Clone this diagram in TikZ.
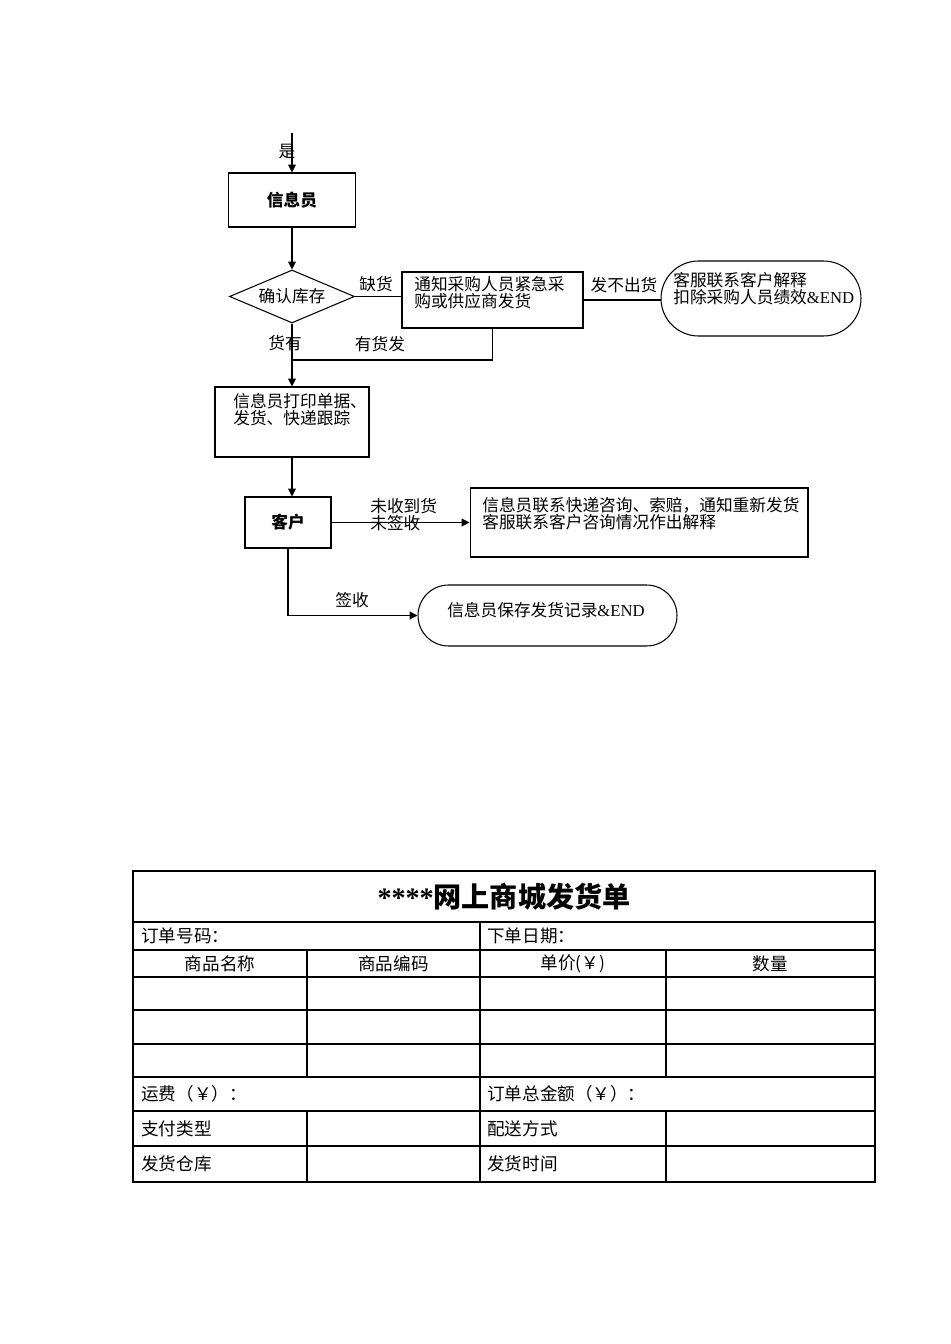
\documentclass[tikz,border=0pt]{standalone}
\usepackage{fontspec}
\setmainfont{Liberation Serif}
\newfontfamily\cjk{Noto Sans CJK SC}
\usetikzlibrary{shapes.geometric,shapes.misc,arrows.meta}

\begin{document}
\begin{tikzpicture}[x=0.02cm, y=-0.02cm,
squarednode/.style={rectangle, draw=black, line width=0.6pt, inner sep=0pt},
roundnode/.style={rounded rectangle, draw=black, line width=0.6pt, inner sep=0pt},
choicenode/.style={diamond, draw=black, line width=0.6pt, inner sep=0pt, aspect=2.4, font=\cjk\fontsize{9.5}{9.5}\selectfont},
boldtext/.style={font=\cjk\bfseries\fontsize{9.5}{9.5}\selectfont},
boxtext/.style={anchor=north west, align=left, inner sep=0pt, font=\cjk\fontsize{9.5}{9.5}\selectfont},
flowlabel/.style={inner sep=0pt, font=\cjk\fontsize{9.5}{9.5}\selectfont},
flowarrow/.style={-{Triangle[length=4.5pt,width=4.5pt]}, line width=0.6pt},
flowline/.style={line width=0.6pt},
cell/.style={inner sep=0pt, anchor=west, font=\cjk\fontsize{10}{12}\selectfont},
headcell/.style={inner sep=0pt, font=\cjk\fontsize{10}{12}\selectfont},
]
\useasboundingbox (0,0) rectangle (950,1344);

%Nodes
\node[squarednode, boldtext, minimum width=2.54cm, minimum height=1.08cm] (staff) at (292,200) {信息员};
\node[choicenode, minimum width=2.5cm, minimum height=1.06cm]           (stock) at (292,296.5) {确认库存};
\node[squarednode, minimum width=3.62cm, minimum height=1.12cm]         (notify) at (492.5,300) {};
\node[roundnode, minimum width=4cm, minimum height=1.5cm]               (explain) at (761,298.5) {};
\node[squarednode, minimum width=3.08cm, minimum height=1.4cm]          (print) at (292,422) {};
\node[squarednode, boldtext, minimum width=1.72cm, minimum height=1.02cm] (customer) at (288,522.5) {客户};
\node[squarednode, minimum width=6.76cm, minimum height=1.38cm]         (claim) at (639,522.5) {};
\node[roundnode, minimum width=5.18cm, minimum height=1.22cm]           (save) at (547.5,615.5) {};

%Texts in boxes
\node[boxtext] (notifytext)  at (414,276) {通知采购人员紧急采\\购或供应商发货};
\node[boxtext] (explaintext) at (673,272) {客服联系客户解释\\扣除采购人员绩效{\rmfamily\&END}};
\node[boxtext] (printtext)   at (233,393) {信息员打印单据、\\发货、快递跟踪};
\node[boxtext] (claimtext)   at (482,497) {信息员联系快递咨询、索赔，通知重新发货\\客服联系客户咨询情况作出解释};
\node[flowlabel] (savetext)  at (546,610) {信息员保存发货记录{\rmfamily\&END}};

%Lines
\coordinate (start) at (292,133);
\coordinate (merge) at (292,360);
\draw[flowarrow] (start) -- (staff);
\draw[flowarrow] (staff) -- (stock);
\draw[flowline] (stock.east) -- (stock.east -| notify.west);
\draw[flowline] (notify.east) -- (notify.east -| explain.west);
\draw[flowline] (notify.south) |- (merge);
\draw[flowarrow] (stock) -- (print);
\draw[flowarrow] (print.south) -- (print.south |- customer.north);
\draw[flowarrow] (customer) -- (claim);
\draw[flowarrow] (customer.south) |- (save.west);

%Labels
\node[flowlabel] (yes)     at (287,152) {是};
\node[flowlabel] (short)   at (376,284) {缺货};
\node[flowlabel] (fail)    at (624,285) {发不出货};
\node[flowlabel] (instock) at (285,343) {货有};
\node[flowlabel] (restock) at (380,344) {有货发};
\node[boxtext]   (unrecv)  at (370,498) {未收到货\\未签收};
\node[flowlabel] (signed)  at (352,600) {签收};

%Table
\draw[line width=0.6pt] (133,871) rectangle (875,1182);
\draw[line width=0.6pt] (133,922) -- (875,922);
\draw[line width=0.6pt] (133,950) -- (875,950);
\draw[line width=0.6pt] (133,977) -- (875,977);
\draw[line width=0.6pt] (133,1010) -- (875,1010);
\draw[line width=0.6pt] (133,1044) -- (875,1044);
\draw[line width=0.6pt] (133,1077) -- (875,1077);
\draw[line width=0.6pt] (133,1111) -- (875,1111);
\draw[line width=0.6pt] (133,1146) -- (875,1146);
\draw[line width=0.6pt] (480,922) -- (480,1182);
\draw[line width=0.6pt] (307,950) -- (307,1077);
\draw[line width=0.6pt] (666,950) -- (666,1077);
\draw[line width=0.6pt] (307,1111) -- (307,1182);
\draw[line width=0.6pt] (666,1111) -- (666,1182);

\node[inner sep=0pt, font=\fontsize{16}{18}\selectfont\bfseries] (title) at (504,897) {****{\cjk 网上商城发货单}};
\node[cell] (orderno)   at (141,936) {订单号码：};
\node[cell] (orderdate) at (487,936) {下单日期：};
\node[headcell] (hname)  at (220,963.5) {商品名称};
\node[headcell] (hcode)  at (393.5,963.5) {商品编码};
\node[headcell] (hprice) at (573,963.5) {单价(￥)};
\node[headcell] (hqty)   at (770.5,963.5) {数量};
\node[cell] (freight) at (141,1094) {运费（￥）：};
\node[cell] (total)   at (487,1094) {订单总金额（￥）：};
\node[cell] (paytype) at (141,1128.5) {支付类型};
\node[cell] (deliver) at (487,1128.5) {配送方式};
\node[cell] (store)   at (141,1164) {发货仓库};
\node[cell] (shiptime) at (487,1164) {发货时间};

\end{tikzpicture}
\end{document}
